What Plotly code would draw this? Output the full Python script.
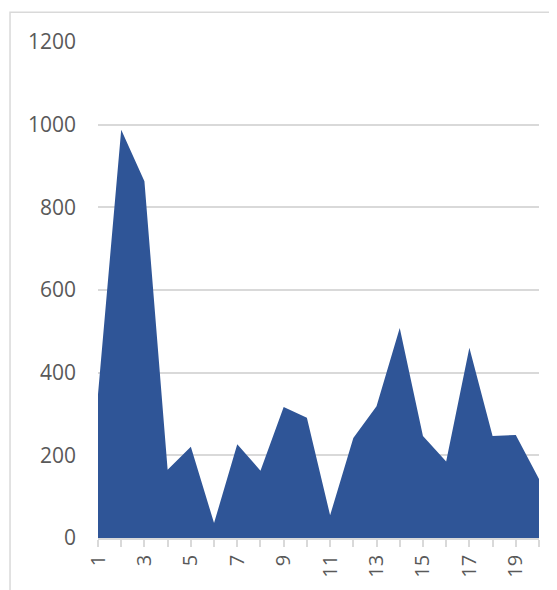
import plotly.graph_objects as go

categories = list(range(1, 21))
values = [348, 988, 863, 165, 221, 36, 227, 163, 317, 291,
          55, 242, 319, 508, 247, 185, 460, 247, 249, 143]
y_ticks = [0, 200, 400, 600, 800, 1000, 1200]

fig = go.Figure()
fig.add_trace(go.Scatter(
    x=categories, y=values, mode="lines", fill="tozeroy",
    fillcolor="#2F5597", line=dict(width=0, color="#2F5597"),
    hoverinfo="x+y", showlegend=False,
))

grey = "#D9D9D9"
fig.update_layout(
    width=549, height=582,
    margin=dict(l=90, r=18, t=34, b=52),
    paper_bgcolor="white", plot_bgcolor="white",
    font=dict(family="Open Sans, Liberation Sans, sans-serif", size=20, color="#595959"),
    xaxis=dict(
        range=[1, 20], tickmode="linear", tick0=1, dtick=2,
        ticks="outside", ticklen=7, tickcolor=grey, tickwidth=1.5,
        showline=True, linecolor=grey, linewidth=1.5,
        showgrid=False, zeroline=False, tickangle=-90,
        tickfont=dict(size=20, color="#595959"),
        minor=dict(tick0=1, dtick=1, ticks="outside", ticklen=7,
                   tickcolor=grey, tickwidth=1.5, showgrid=False),
    ),
    yaxis=dict(
        range=[0, 1200], tickmode="array", tickvals=y_ticks,
        showgrid=True, gridcolor=grey, gridwidth=1.5,
        zeroline=False, showline=False, ticks="",
        ticklabelstandoff=21,
        tickfont=dict(size=21, color="#595959"),
    ),
    shapes=[dict(type="rect", xref="paper", yref="paper",
                 x0=-0.1995, x1=1.3, y0=-0.3, y1=1.0598,
                 line=dict(color=grey, width=1.5), layer="below")],
)

fig.write_html("out.html")
